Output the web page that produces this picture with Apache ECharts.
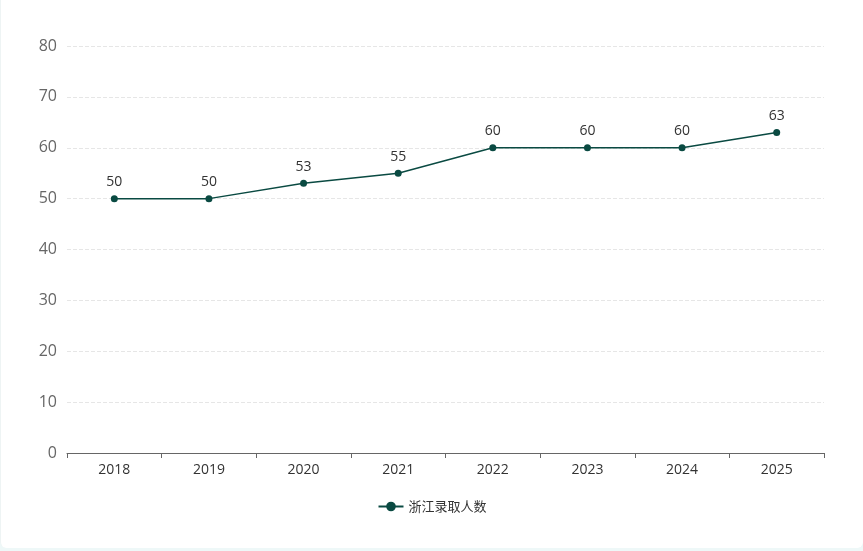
<!DOCTYPE html>
<html><head><meta charset="utf-8">
<script src="https://cdn.jsdelivr.net/npm/echarts@6/dist/echarts.min.js"></script>
<style>
html,body{margin:0;padding:0;background:#eef8f8;}
#wrap{position:absolute;left:0;top:0;width:862px;height:548px;background:#fff;border-left:1px solid #eef4f4;border-radius:0 0 6px 6px;}
#c{width:862px;height:548px;}
</style></head>
<body><div id="wrap"><div id="c"></div></div>
<script>
const categories = ['2018','2019','2020','2021','2022','2023','2024','2025'];
const values = [50,50,53,55,60,60,60,63];
const seriesName = '浙江录取人数';
const chart = echarts.init(document.getElementById('c'));
chart.setOption({
  animation:false,
  grid:{left:66,right:39,top:46,bottom:95},
  legend:{bottom:30,left:'center',data:[seriesName],itemWidth:25,itemHeight:12,textStyle:{color:'#333',fontSize:13,fontFamily:'Noto Sans CJK SC'}},
  xAxis:{type:'category',data:categories,boundaryGap:true,
    axisLine:{lineStyle:{color:'#666'}},axisTick:{show:true,lineStyle:{color:'#666'}},
    axisLabel:{color:'#333',fontSize:14,margin:10,fontFamily:'Open Sans'}},
  yAxis:{type:'value',min:0,max:80,interval:10,
    axisLabel:{color:'#666',fontSize:16,margin:10,fontFamily:'Open Sans'},
    splitLine:{lineStyle:{color:'#e6e6e6',type:'dashed'}}},
  series:[{name:seriesName,type:'line',data:values,symbol:'circle',symbolSize:7,
    itemStyle:{color:'#0a4a42'},lineStyle:{color:'#0a4a42',width:1.5},
    label:{show:true,position:'top',color:'#333',fontSize:14,fontFamily:'Open Sans',distance:6}}]
});
</script></body></html>
